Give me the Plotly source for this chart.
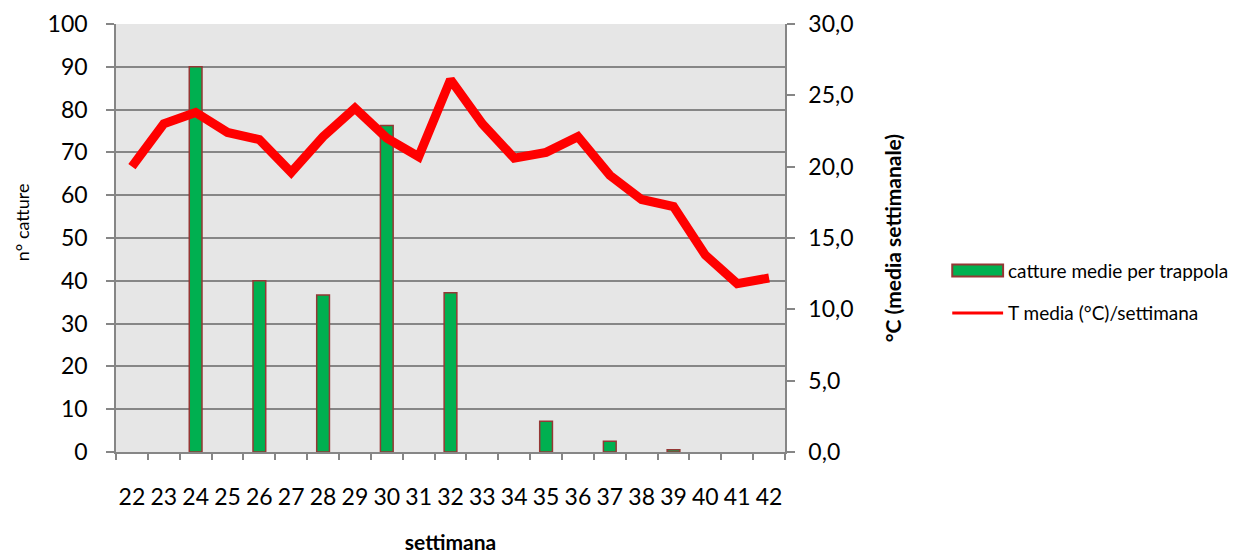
import plotly.graph_objects as go

# weeks (settimana)
settimane = [str(w) for w in range(22, 43)]

# mean catches per trap (n° catture); None = no catches
catture = [None, None, 90, None, 40, None, 36.7, None, 76.3, None, 37.2,
           None, None, 7.2, None, 2.5, None, 0.5, None, None, None]

# weekly mean temperature (°C)
temperatura = [20.0, 23.0, 23.8, 22.4, 21.9, 19.6, 22.1, 24.1, 22.0, 20.7, 26.1,
               23.0, 20.6, 21.0, 22.1, 19.4, 17.7, 17.2, 13.8, 11.8, 12.2]

nome_barre = "catture medie per trappola"
nome_linea = "T media (°C)/settimana"

FONT = "Lato"
GRID = "#868686"
VERDE = "#00B050"
BORDO = "#953735"
ROSSO = "#FF0000"

# page body has an 8px margin, so the figure is a bit smaller than the window
W, H = 1237, 546

fig = go.Figure()

fig.add_trace(go.Bar(
    x=settimane,
    y=catture,
    name=nome_barre,
    marker=dict(color=VERDE, line=dict(color=BORDO, width=1.5)),
    width=0.4,
))

fig.add_trace(go.Scatter(
    x=settimane,
    y=temperatura,
    name=nome_linea,
    yaxis="y2",
    mode="lines",
    line=dict(color=ROSSO, width=9),
))

# hand-drawn legend (Excel style keys)
fig.add_shape(type="rect", xref="paper", yref="paper",
              x0=1.250, x1=1.326, y0=0.41, y1=0.438,
              fillcolor=VERDE, line=dict(color=BORDO, width=2))
fig.add_shape(type="line", xref="paper", yref="paper",
              x0=1.250, x1=1.326, y0=0.325, y1=0.325,
              line=dict(color=ROSSO, width=3))
fig.add_annotation(text=nome_barre, xref="paper", yref="paper",
                   x=1.331, y=0.424, xanchor="left", yanchor="middle",
                   showarrow=False, font=dict(family=FONT, size=19))
fig.add_annotation(text=nome_linea, xref="paper", yref="paper",
                   x=1.331, y=0.325, xanchor="left", yanchor="middle",
                   showarrow=False, font=dict(family=FONT, size=19))

# left axis title sits a little above the middle, as in the original
fig.add_annotation(text="n° catture", xref="paper", yref="paper",
                   x=-0.1405, y=0.537, textangle=-90,
                   xanchor="center", yanchor="middle",
                   showarrow=False, font=dict(family=FONT, size=18))

fig.update_layout(
    width=W,
    height=H,
    margin=dict(l=108, r=460, t=16, b=102),
    paper_bgcolor="white",
    plot_bgcolor="#E6E6E6",
    separators=",.",
    font=dict(family=FONT, size=20, color="black"),
    showlegend=False,
    xaxis=dict(
        type="category",
        automargin=False,
        showgrid=False,
        showline=True, linecolor=GRID, linewidth=1.5,
        ticks="outside", ticklen=6, tickcolor=GRID, tickwidth=1.5,
        tickson="boundaries",
        tickangle=0,
        ticklabelstandoff=24,
        tickfont=dict(family=FONT, size=23),
        title=dict(text="<b>settimana</b>", font=dict(family=FONT, size=21), standoff=26),
    ),
    yaxis=dict(
        range=[0, 100],
        dtick=10,
        tickformat=".0f",
        automargin=False,
        showgrid=True, gridcolor=GRID, gridwidth=1.5,
        showline=True, linecolor=GRID, linewidth=1.5,
        ticks="outside", ticklen=8, tickcolor=GRID, tickwidth=1.5,
        ticklabelstandoff=14,
        tickfont=dict(family=FONT, size=23),
        zeroline=False,
    ),
    yaxis2=dict(
        range=[0, 30],
        dtick=5,
        tickformat=".1f",
        overlaying="y",
        side="right",
        automargin=False,
        showgrid=False,
        showline=True, linecolor=GRID, linewidth=1.5,
        ticks="outside", ticklen=8, tickcolor=GRID, tickwidth=1.5,
        ticklabelstandoff=9,
        tickfont=dict(family=FONT, size=23),
        zeroline=False,
        title=dict(text="<b>°C (media settimanale)</b>", font=dict(family=FONT, size=21), standoff=34),
    ),
)

fig.write_html("out.html")
